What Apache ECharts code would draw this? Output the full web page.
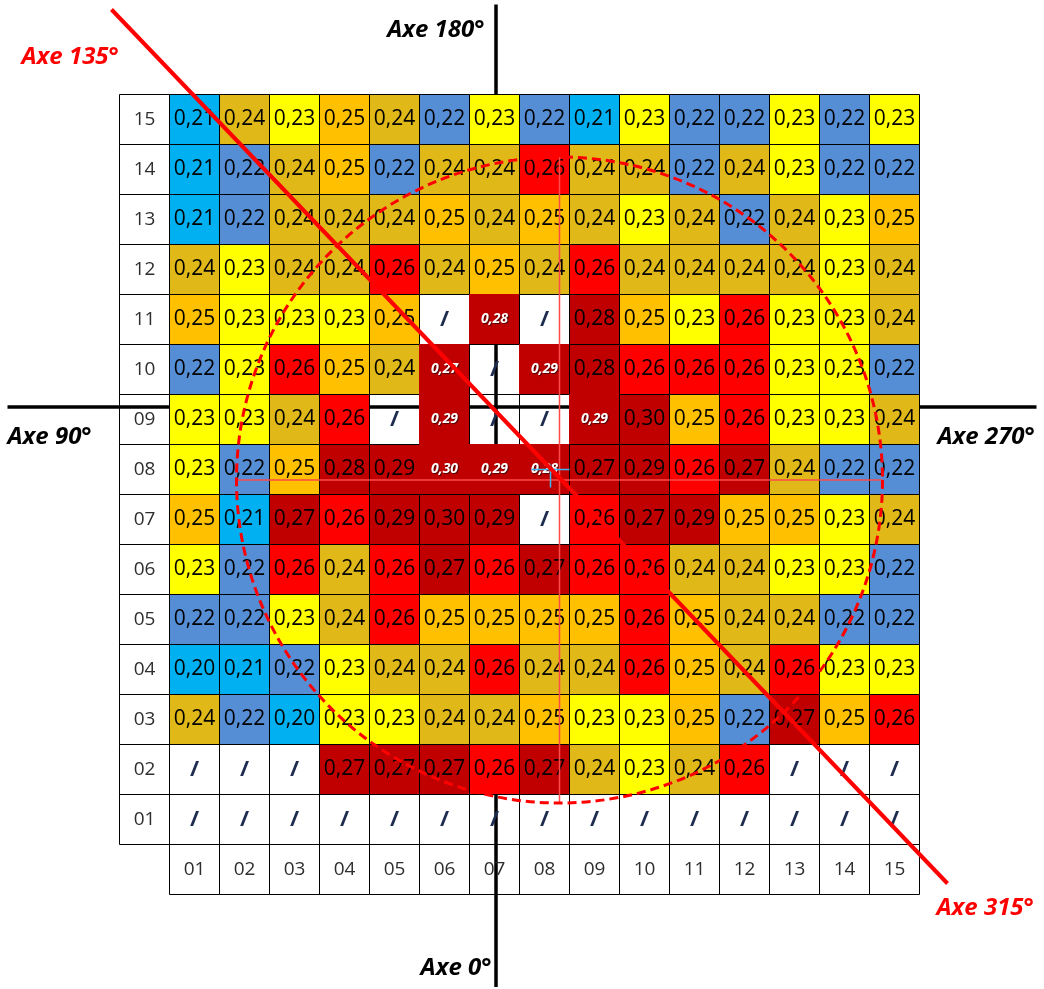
<!DOCTYPE html>
<html><head><meta charset="utf-8">
<script src="https://cdn.jsdelivr.net/npm/echarts@6/dist/echarts.min.js"></script>
<style>html,body{margin:0;padding:0;background:#fff}#c{width:1044px;height:989px}</style>
</head><body><div id="c"></div>
<script>
// ---- data ----
const colLabels = ['01','02','03','04','05','06','07','08','09','10','11','12','13','14','15'];
const rowLabels = ['15','14','13','12','11','10','09','08','07','06','05','04','03','02','01'];
// values per row, columns 01..15 (null = "/")
const r15 = [0.21,0.24,0.23,0.25,0.24,0.22,0.23,0.22,0.21,0.23,0.22,0.22,0.23,0.22,0.23];
const r14 = [0.21,0.22,0.24,0.25,0.22,0.24,0.24,0.26,0.24,0.24,0.22,0.24,0.23,0.22,0.22];
const r13 = [0.21,0.22,0.24,0.24,0.24,0.25,0.24,0.25,0.24,0.23,0.24,0.22,0.24,0.23,0.25];
const r12 = [0.24,0.23,0.24,0.24,0.26,0.24,0.25,0.24,0.26,0.24,0.24,0.24,0.24,0.23,0.24];
const r11 = [0.25,0.23,0.23,0.23,0.25,null,0.28,null,0.28,0.25,0.23,0.26,0.23,0.23,0.24];
const r10 = [0.22,0.23,0.26,0.25,0.24,0.27,null,0.29,0.28,0.26,0.26,0.26,0.23,0.23,0.22];
const r09 = [0.23,0.23,0.24,0.26,null,0.29,null,null,0.29,0.30,0.25,0.26,0.23,0.23,0.24];
const r08 = [0.23,0.22,0.25,0.28,0.29,0.30,0.29,0.28,0.27,0.29,0.26,0.27,0.24,0.22,0.22];
const r07 = [0.25,0.21,0.27,0.26,0.29,0.30,0.29,null,0.26,0.27,0.29,0.25,0.25,0.23,0.24];
const r06 = [0.23,0.22,0.26,0.24,0.26,0.27,0.26,0.27,0.26,0.26,0.24,0.24,0.23,0.23,0.22];
const r05 = [0.22,0.22,0.23,0.24,0.26,0.25,0.25,0.25,0.25,0.26,0.25,0.24,0.24,0.22,0.22];
const r04 = [0.20,0.21,0.22,0.23,0.24,0.24,0.26,0.24,0.24,0.26,0.25,0.24,0.26,0.23,0.23];
const r03 = [0.24,0.22,0.20,0.23,0.23,0.24,0.24,0.25,0.23,0.23,0.25,0.22,0.27,0.25,0.26];
const r02 = [null,null,null,0.27,0.27,0.27,0.26,0.27,0.24,0.23,0.24,0.26,null,null,null];
const r01 = [null,null,null,null,null,null,null,null,null,null,null,null,null,null,null];
// pasted-over cells (column, row) shown with white italic labels
const overlayCells = [[7,11],[6,10],[8,10],[6,9],[9,9],[6,8],[7,8],[8,8]];

// ---- build ----
const rowsTopDown = [r15,r14,r13,r12,r11,r10,r09,r08,r07,r06,r05,r04,r03,r02,r01];
function colorOf(v){
  if (v <= 0.21) return '#00B0F0';
  if (v <= 0.22) return '#558ED5';
  if (v <= 0.23) return '#FFFF00';
  if (v <= 0.24) return '#E0B818';
  if (v <= 0.25) return '#FFC000';
  if (v <= 0.26) return '#FF0000';
  return '#C00000';
}
const isOverlay = (c,r) => overlayCells.some(o => o[0]===c && o[1]===r);
const cells = [];
rowsTopDown.forEach((arr, i) => {
  const rowNum = 15 - i;
  cells.push({x:0, y:rowNum, kind:'label', text:rowLabels[i]});
  arr.forEach((v, j) => {
    const colNum = j + 1;
    if (v === null) cells.push({x:colNum, y:rowNum, kind:'slash', text:'/'});
    else cells.push({x:colNum, y:rowNum, kind: isOverlay(colNum,rowNum)?'over':'val', val:v,
                     text: v.toFixed(2).replace('.', ',')});
  });
});
colLabels.forEach((t, j) => cells.push({x:j+1, y:0, kind:'label', text:t}));

const FONT = '"Open Sans", "DejaVu Sans", sans-serif';

function renderCell(params, api){
  const c = cells[params.dataIndex];
  const p0 = api.coord([c.x, c.y+1]);
  const p1 = api.coord([c.x+1, c.y]);
  const w = p1[0]-p0[0], h = p1[1]-p0[1];
  const cx = p0[0]+w/2, cy = p0[1]+h/2;
  let fill = null, tfill = '#000', tstyle = 'normal', tweight = 'normal', fs = 21;
  if (c.kind === 'val') fill = colorOf(c.val);
  if (c.kind === 'over') { fill = '#C00000'; tfill = '#fff'; fs = 14; tstyle='italic'; tweight='bold'; }
  if (c.kind === 'label') { tfill = '#2e2e2e'; fs = 19; }
  if (c.kind === 'slash') { tfill = '#1d2b4f'; fs = 22; tweight='bold'; }
  const over = c.kind === 'over';
  return {
    type:'group',
    children:[
      {type:'rect', shape:{x:p0[0], y:p0[1], width:w, height:h},
       style:{fill: fill || 'rgba(0,0,0,0)', stroke: over ? '#C00000' : '#000', lineWidth:1}},
      {type:'text', style:{text:c.text, x:cx, y:cy, align:'center', verticalAlign:'middle',
        fill:tfill, fontSize:fs, fontFamily:FONT, fontStyle:tstyle, fontWeight:tweight,
        textShadowColor: over ? 'rgba(0,0,0,0.6)' : 'transparent', textShadowBlur: over?1:0,
        textShadowOffsetX: over?1:0, textShadowOffsetY: over?1:0}}
    ]
  };
}

function line(api, a, b, color, width, dash){
  const p = api.coord(a), q = api.coord(b);
  return {type:'line', shape:{x1:p[0], y1:p[1], x2:q[0], y2:q[1]},
          style:{stroke:color, lineWidth:width, lineDash: dash || null}};
}
function label(api, pos, text, color, align){
  const p = api.coord(pos);
  return {type:'text', style:{text, x:p[0], y:p[1], align, verticalAlign:'middle', fill:color,
    fontSize:24, fontFamily:FONT, fontStyle:'italic', fontWeight:'bold'}};
}

function renderBackAxes(params, api){
  return {type:'group', children:[
    line(api, [7.53, 17.8], [7.53, -1.85], '#000', 3.5),
    line(api, [-2.24, 9.75], [18.34, 9.75], '#000', 3.5)
  ]};
}
function renderFront(params, api){
  const c = api.coord([8.8, 8.29]);
  const r = api.size([6.46, 0])[0];
  return {type:'group', children:[
    line(api, [8.8-6.46, 8.29], [8.8+6.46, 8.29], '#ff4a4a', 1.5),
    line(api, [8.8, 8.29+6.46], [8.8, 8.29-6.46], '#ff4a4a', 1.5),
    line(api, [8.24, 8.5], [9.0, 8.5], '#3fb6f0', 1.5),
    line(api, [8.62, 8.6], [8.62, 8.14], '#3fb6f0', 1.5),
    {type:'circle', shape:{cx:c[0], cy:c[1], r}, style:{fill:null, stroke:'#FF0000', lineWidth:3, lineDash:[9,5]}},
    line(api, [-0.16, 17.7], [16.56, 0.22], '#FF0000', 4),
    label(api, [7.3, 17.29], 'Axe 180°', '#000', 'right'),
    label(api, [-1.96, 16.75], 'Axe 135°', '#FF0000', 'left'),
    label(api, [-2.24, 9.15], 'Axe 90°', '#000', 'left'),
    label(api, [16.36, 9.15], 'Axe 270°', '#000', 'left'),
    label(api, [16.34, -0.27], 'Axe 315°', '#FF0000', 'left'),
    label(api, [7.44, -1.47], 'Axe 0°', '#000', 'right')
  ]};
}

const chart = echarts.init(document.getElementById('c'), null, {renderer:'canvas'});
chart.setOption({
  animation:false,
  backgroundColor:'#fff',
  grid:{left:119.5, top:94.5, width:800, height:800},
  xAxis:{type:'value', min:0, max:16, show:false},
  yAxis:{type:'value', min:0, max:16, show:false},
  series:[
    {type:'custom', z:1, clip:false, renderItem:renderBackAxes, data:[[0,0]], silent:true},
    {type:'custom', z:2, clip:false, renderItem:renderCell, data:cells.map(c=>[c.x, c.y]), silent:true},
    {type:'custom', z:3, clip:false, renderItem:renderFront, data:[[0,0]], silent:true}
  ]
});
</script></body></html>
